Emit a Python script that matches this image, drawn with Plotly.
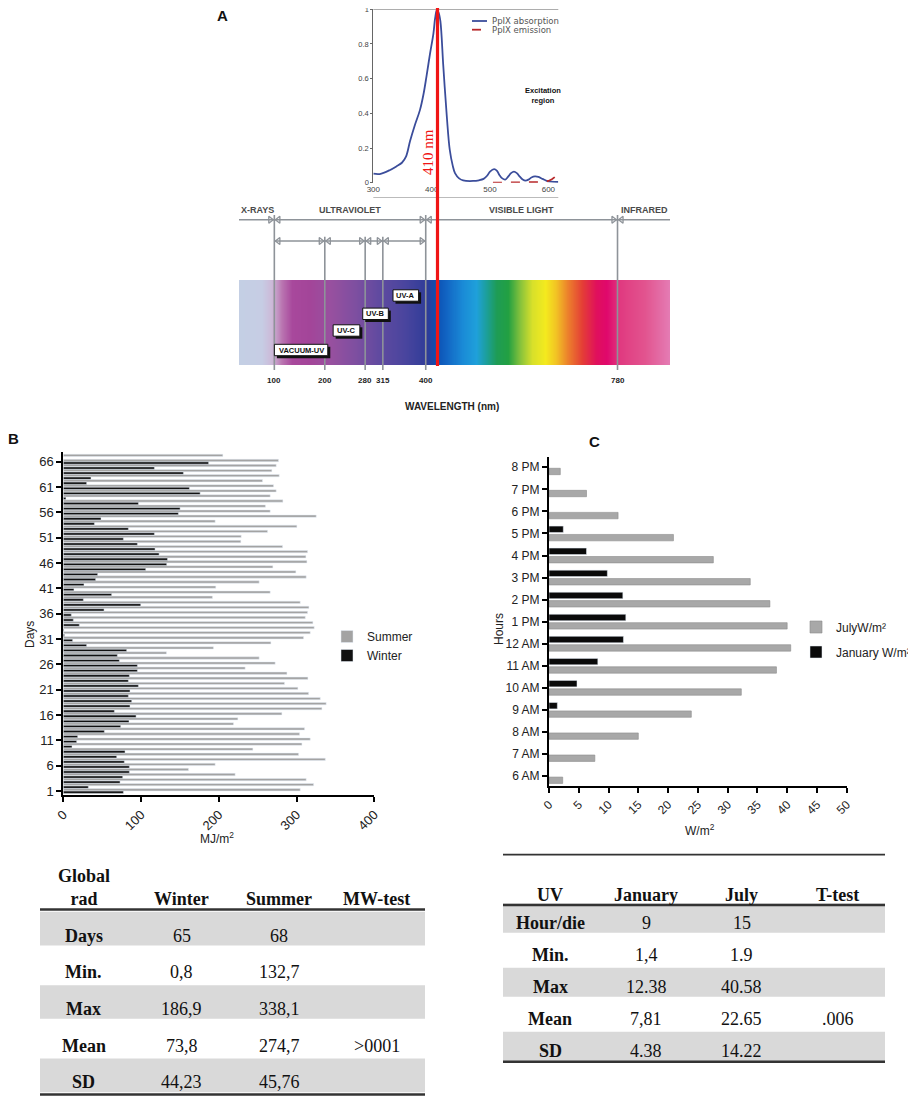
import numpy as np
import plotly.graph_objects as go

W, H = 916, 1096
PAGE_OFFSET = 8  # the page body margin shifts the figure by this much


def px(x):
    return (x - PAGE_OFFSET) / W


def py(y):
    return 1 - (y - PAGE_OFFSET) / H


# ---------------- panel A: spectrum and PpIX inset ----------------
main_edges = [100, 400, 780]
sub_edges = [100, 200, 280, 315, 400]
edge_labels = [100, 200, 280, 315, 400, 780]
regions = ["X-RAYS", "ULTRAVIOLET", "VISIBLE LIGHT", "INFRARED"]
uv_names = ["VACUUM-UV", "UV-C", "UV-B", "UV-A"]

spec_nm = [30, 76, 96, 116, 136, 171, 211, 260, 310, 359, 405, 421, 444, 472, 500, 520,
           540, 563, 587, 611, 637, 658, 682, 710, 738, 759, 785, 835, 884]
spec_col = ["#c4cfe4", "#c6cde4", "#cdb8d8", "#b974b0", "#a8489c", "#a34599", "#98509f",
            "#7f4fa0", "#5f4aa0", "#4a459e", "#2f3c98", "#0b4fb2", "#1266c4", "#1a8ad6",
            "#1fa0da", "#1c9f9a", "#1e9c55", "#22a042", "#86c23c", "#d8e02a", "#f4ea1e",
            "#f2c324", "#ec7f2c", "#e43e36", "#e0105c", "#e0086c", "#e03a80", "#e2548f",
            "#e47cb4"]

abs_nm = [300, 311, 328, 340, 349, 356, 363, 371, 380, 386, 391, 397, 403, 406, 409, 412,
          415, 420, 426, 431, 436, 440, 447, 454, 471, 481, 489, 495, 500, 507, 512, 516,
          521, 526, 531, 536, 541, 546, 551, 556, 561, 566, 571, 577, 583, 590, 597, 605, 617]
abs_val = [0.052, 0.05, 0.072, 0.095, 0.115, 0.15, 0.24, 0.33, 0.42, 0.51, 0.61, 0.74, 0.86,
           0.95, 0.997, 0.98, 0.93, 0.67, 0.38, 0.19, 0.1, 0.055, 0.025, 0.013, 0.01, 0.014,
           0.022, 0.04, 0.064, 0.078, 0.068, 0.045, 0.025, 0.018, 0.035, 0.055, 0.064, 0.055,
           0.035, 0.018, 0.012, 0.018, 0.03, 0.036, 0.033, 0.022, 0.011, 0.006, 0.004]
emi_nm = [505, 540, 570, 590, 600, 606, 612, 617]
emi_val = [0.0, 0.0, 0.0, 0.004, 0.01, 0.02, 0.035, 0.05]
peak_nm = 410
inset_names = ["PpIX absorption", "PpIX emission"]

# ---------------- panel B: daily global radiation ----------------
days = list(range(1, 68))
summer = [304.7, 321.9, 312.4, 221.0, 161.0, 195.3, 337.0, 302.6, 243.8, 306.9,
          317.6, 303.9, 310.3, 218.9, 224.5, 281.1, 332.6, 338.1, 330.5, 315.5,
          301.7, 284.5, 314.6, 287.6, 233.9, 272.5, 251.9, 132.7, 193.1, 267.0,
          309.0, 317.6, 322.7, 321.0, 311.2, 314.2, 315.9, 304.7, 191.8, 266.1,
          196.1, 251.9, 312.4, 299.1, 269.5, 313.3, 312.0, 314.2, 282.0, 228.3,
          228.8, 262.7, 300.4, 195.3, 325.3, 266.1, 260.0, 282.4, 266.1, 273.8,
          270.4, 256.2, 277.7, 268.2, 273.8, 276.8, 205.2]
winter = [77.3, 32.2, 73.0, 76.4, 85.0, 85.0, 78.5, 68.7, 79.4, 11.2,
          17.2, 18.5, 52.8, 73.8, 84.5, 93.6, 65.7, 85.8, 88.0, 83.7,
          85.8, 96.6, 83.7, 85.0, 95.3, 95.3, 72.1, 69.5, 81.5, 30.0,
          12.0, 1.5, 0.8, 20.6, 12.9, 10.3, 52.4, 99.6, 25.8, 62.2,
          13.7, 26.6, 41.6, 44.2, 106.0, 133.0, 134.0, 123.2, 118.0, 95.3,
          77.3, 117.2, 83.7, 40.0, 48.5, 148.0, 150.2, 96.6, 3.4, 176.0,
          162.2, 30.0, 35.6, 154.5, 117.2, 186.9, None]

# ---------------- panel C: hourly UV ----------------
hours = ["6 AM", "7 AM", "8 AM", "9 AM", "10 AM", "11 AM", "12 AM", "1 PM",
         "2 PM", "3 PM", "4 PM", "5 PM", "6 PM", "7 PM", "8 PM"]
july = [2.3, 7.7, 15.0, 23.9, 32.3, 38.2, 40.6, 40.0, 37.1, 33.8, 27.6, 20.9, 11.6, 6.3, 1.9]
january = [None, None, None, 1.4, 4.7, 8.2, 12.5, 12.9, 12.4, 9.8, 6.3, 2.4, None, None, None]

# ---------------- tables ----------------
tab_b_head = ["Global<br>rad", "Winter", "Summer", "MW-test"]
tab_b_rows = [["Days", "65", "68", ""],
              ["Min.", "0,8", "132,7", ""],
              ["Max", "186,9", "338,1", ""],
              ["Mean", "73,8", "274,7", ">0001"],
              ["SD", "44,23", "45,76", ""]]
tab_c_head = ["UV", "January", "July", "T-test"]
tab_c_rows = [["Hour/die", "9", "15", ""],
              ["Min.", "1,4", "1.9", ""],
              ["Max", "12.38", "40.58", ""],
              ["Mean", "7,81", "22.65", ".006"],
              ["SD", "4.38", "14.22", ""]]

SANS = "Arial, Liberation Sans, sans-serif"
SERIF = "Times New Roman, Liberation Serif, serif"
GREY_LINE = "#8e9399"

fig = go.Figure()
shapes = []
ann = []


def note(text, x, y, xref="paper", yref="paper", **kw):
    d = dict(text=text, x=x, y=y, xref=xref, yref=yref, showarrow=False,
             xanchor="center", yanchor="middle")
    d.update(kw)
    ann.append(d)


# spectrum gradient band (x4 is wavelength, y4 is a pixel row scale)
nm_lo, nm_hi = spec_nm[0], spec_nm[-1]
nm_per_px = (nm_hi - nm_lo) / (670 - 239)
cols = np.linspace(nm_lo, nm_hi, 431)
centers = (cols[:-1] + cols[1:]) / 2
cscale = [[(n - nm_lo) / (nm_hi - nm_lo), c] for n, c in zip(spec_nm, spec_col)]
fig.add_trace(go.Heatmap(x=cols, y=[280, 365], z=[centers], colorscale=cscale,
                         zmin=nm_lo, zmax=nm_hi, showscale=False, hoverinfo="skip",
                         xaxis="x4", yaxis="y4"))

# arrow lines and boundaries
shapes.append(dict(type="line", xref="x4 domain", yref="y4", x0=0, x1=1, y0=219.7, y1=219.7,
                   line=dict(color=GREY_LINE, width=1.5)))
shapes.append(dict(type="line", xref="x4", yref="y4", x0=sub_edges[0], x1=sub_edges[-1],
                   y0=241, y1=241, line=dict(color=GREY_LINE, width=1.5)))
for e in main_edges:
    shapes.append(dict(type="line", xref="x4", yref="y4", x0=e, x1=e, y0=215, y1=370,
                       line=dict(color=GREY_LINE, width=1.6)))
for e in sub_edges[1:-1]:
    shapes.append(dict(type="line", xref="x4", yref="y4", x0=e, x1=e, y0=236.7, y1=370,
                       line=dict(color=GREY_LINE, width=1.6)))

rx, ry, lx, ly = [], [], [], []
for e in main_edges:
    rx.append(e - 8); ry.append(219.7)
    lx.append(e + 8); ly.append(219.7)
for i, e in enumerate(sub_edges):
    if i > 0:
        rx.append(e - 8); ry.append(241)
    if i < len(sub_edges) - 1:
        lx.append(e + 8); ly.append(241)
for xs, ys, sym in [(rx, ry, "triangle-right-open"), (lx, ly, "triangle-left-open")]:
    fig.add_trace(go.Scatter(x=xs, y=ys, mode="markers", xaxis="x4", yaxis="y4",
                             showlegend=False, hoverinfo="skip",
                             marker=dict(symbol=sym, size=6, color=GREY_LINE,
                                         line=dict(width=1.3, color=GREY_LINE))))

reg_x = [nm_lo, (main_edges[0] + main_edges[1]) / 2, (main_edges[1] + main_edges[2]) / 2, nm_hi]
reg_anchor = ["left", "center", "center", "right"]
for name, x, a in zip(regions, reg_x, reg_anchor):
    note(name, x, 210, "x4", "y4", xanchor=a,
         font=dict(family=SANS, size=9, color="#4a4a4a", weight="bold"))
for e in edge_labels:
    note(str(e), e, 380, "x4", "y4", font=dict(family=SANS, size=8, color="#222", weight="bold"))
note("WAVELENGTH (nm)", px(452), py(407),
     font=dict(family=SANS, size=10, color="#222", weight="bold"))

# UV sub-band tags: shadow, white box, label
tag_y = [350, 330.5, 313.8, 295.5]
tag_w = [53.4, 26.7, 25.6, 25.6]
for i, name in enumerate(uv_names):
    cx = (sub_edges[i] + sub_edges[i + 1]) / 2 + 3
    half = tag_w[i] / 2 * nm_per_px
    sh = 2.5 * nm_per_px
    shapes.append(dict(type="rect", xref="x4", yref="y4", x0=cx - half + sh, x1=cx + half + sh,
                       y0=tag_y[i] - 5.7 + 2.5, y1=tag_y[i] + 5.7 + 2.5,
                       fillcolor="#111", line=dict(width=0)))
    shapes.append(dict(type="rect", xref="x4", yref="y4", x0=cx - half, x1=cx + half,
                       y0=tag_y[i] - 5.7, y1=tag_y[i] + 5.7,
                       fillcolor="white", line=dict(color="#111", width=1)))
    note(name, cx, tag_y[i], "x4", "y4", font=dict(family=SANS, size=7.5, color="#111", weight="bold"))

# inset absorption / emission
fig.add_trace(go.Scatter(x=abs_nm, y=abs_val, mode="lines",
                         line=dict(color="#3b4d9b", width=1.8, shape="spline"),
                         xaxis="x3", yaxis="y3", showlegend=False, name=inset_names[0]))
fig.add_trace(go.Scatter(x=emi_nm, y=emi_val, mode="lines",
                         line=dict(color="#b8282a", width=1.8, dash="dash"),
                         xaxis="x3", yaxis="y3", showlegend=False, name=inset_names[1]))
shapes.append(dict(type="line", xref="x3 domain", yref="y3", x0=0, x1=1, y0=1, y1=1,
                   line=dict(color="#777", width=1)))
shapes.append(dict(type="line", xref="x3 domain", yref="paper", x0=0, x1=1,
                   y0=py(197.5), y1=py(197.5), line=dict(color="#bbb", width=1)))
for name, yy, col, dash in zip(inset_names, [21, 29.7], ["#3b4d9b", "#b8282a"], ["solid", "dash"]):
    shapes.append(dict(type="line", xref="paper", yref="paper", x0=px(472), x1=px(487),
                       y0=py(yy), y1=py(yy), line=dict(color=col, width=1.8, dash=dash)))
    note(name, px(490), py(yy), xanchor="left",
         font=dict(family="DejaVu Sans", size=8.5, color="#555"))
note("Excitation<br>region", px(543), py(95.5),
     font=dict(family=SANS, size=7.5, color="#111", weight="bold"))

# 410 nm marker
shapes.append(dict(type="line", xref="x3", yref="paper", x0=peak_nm, x1=peak_nm,
                   y0=py(366), y1=py(8), line=dict(color="#f01515", width=3.2)))
note(f"{peak_nm} nm", peak_nm, py(152), "x3", "paper", xshift=-9.5, textangle=-90,
     font=dict(family=SERIF, size=15, color="#f01515"))

# ---------------- panel B bars ----------------
fig.add_trace(go.Bar(y=days, x=summer, orientation="h", name="Summer",
                     marker=dict(color="#a3a3a3"), offset=0.02, width=0.46,
                     xaxis="x", yaxis="y", legend="legend"))
fig.add_trace(go.Bar(y=days, x=winter, orientation="h", name="Winter",
                     marker=dict(color="#111"), offset=-0.48, width=0.46,
                     xaxis="x", yaxis="y", legend="legend"))

# ---------------- panel C bars ----------------
fig.add_trace(go.Bar(y=hours, x=july, orientation="h", name="JulyW/m²",
                     marker=dict(color="#a8a8a8", line=dict(color="#8c8c8c", width=0.6)),
                     offset=-0.335, width=0.29, xaxis="x2", yaxis="y2", legend="legend2",
                     legendgroup="jul"))
fig.add_trace(go.Bar(y=hours, x=january, orientation="h", name="January W/m²",
                     marker=dict(color="#0a0a0a"), offset=0.045, width=0.29,
                     xaxis="x2", yaxis="y2", legend="legend2", legendgroup="jan"))

title_font = dict(family=SANS, size=12, color="#222")
note("Days", px(30), py(635), textangle=-90, font=title_font)
note("MJ/m<sup>2</sup>", px(217), py(838), font=title_font)
note("Hours", px(499), py(629), textangle=-90, font=title_font)
note("W/m<sup>2</sup>", px(700), py(830), font=title_font)
for letter, x, y in [("A", 222, 16), ("B", 13, 438), ("C", 594, 441)]:
    note(letter, px(x), py(y), font=dict(family=SANS, size=15, color="#111", weight="bold"))


# ---------------- tables ----------------
def add_table(xa, ya, head, rows, head_y, band, lines):
    for c, h in enumerate(head):
        nl = h.count("<br>")
        note(h, c, head_y - 0.31 * nl, xa, ya,
             font=dict(family=SERIF, size=18, color="#111", weight="bold"))
    for r, row in enumerate(rows, start=1):
        if r % 2 == 1:
            shapes.append(dict(type="rect", xref=xa + " domain", yref=ya, x0=0, x1=1,
                               y0=r + band[0], y1=r + band[1], fillcolor="#d9d9d9",
                               line=dict(width=0), layer="below"))
        for c, v in enumerate(row):
            if v:
                note(v, c, r, xa, ya, font=dict(family=SERIF, size=18, color="#111",
                                                weight="bold" if c == 0 else "normal"))
    for yv, wd in lines:
        shapes.append(dict(type="line", xref=xa + " domain", yref=ya, x0=0, x1=1, y0=yv, y1=yv,
                           line=dict(color="#333", width=wd)))


add_table("x5", "y5", tab_b_head, tab_b_rows, 0, (-0.65, 0.27), [(0.284, 2.5), (5.33, 2.5)])
add_table("x6", "y6", tab_c_head, tab_c_rows, 0.14, (-0.6, 0.31),
          [(-1.12, 1.8), (0.449, 2.5), (5.33, 2.5)])

hidden = dict(visible=False, showgrid=False, zeroline=False, fixedrange=True, automargin=False)
axis_common = dict(showline=True, linecolor="black", linewidth=2, ticks="outside", ticklen=5,
                   tickwidth=2, tickcolor="black", showgrid=False, zeroline=False,
                   automargin=False, tickfont=dict(family=SANS, color="#222"))

fig.update_layout(
    width=W, height=H,
    margin=dict(l=0, r=0, t=0, b=0, pad=0, autoexpand=False),
    paper_bgcolor="white", plot_bgcolor="rgba(0,0,0,0)",
    barmode="overlay", font=dict(family=SANS, color="#222"),
    xaxis=dict(axis_common, domain=[px(63.3), px(374.3)], range=[0, 400], anchor="y",
               tickvals=[0, 100, 200, 300, 400], tickangle=-45, tickfont=dict(size=13)),
    yaxis=dict(axis_common, domain=[py(795), py(451.7)], range=[0.21, 67.98], anchor="x",
               tickvals=days[::5], tickfont=dict(size=13)),
    xaxis2=dict(axis_common, domain=[px(549), px(846.7)], range=[0, 50], anchor="y2",
                dtick=5, tickangle=-45, tickfont=dict(size=12)),
    yaxis2=dict(axis_common, domain=[py(786), py(456.7)], range=[-0.45, 14.48], anchor="x2",
                type="category", categoryorder="array", categoryarray=hours,
                tickfont=dict(size=12)),
    xaxis3=dict(domain=[px(373.3), px(558.3)], range=[300, 617], anchor="y3",
                tickvals=[300, 400, 500, 600], showgrid=False, zeroline=False, showline=False,
                ticks="", automargin=False, tickfont=dict(family=SANS, size=8, color="#444")),
    yaxis3=dict(domain=[py(182.7), py(9.3)], range=[0, 1], anchor="x3", dtick=0.2,
                showgrid=False, zeroline=False, showline=True, linecolor="#666", linewidth=1,
                ticks="outside", ticklen=2, tickcolor="#666", automargin=False,
                ticklabeloverflow="allow",
                tickfont=dict(family=SANS, size=7.5, color="#444")),
    xaxis4=dict(hidden, domain=[px(239), px(670)], range=[nm_lo, nm_hi], anchor="y4"),
    yaxis4=dict(hidden, domain=[py(415), py(200)], range=[415, 200], anchor="x4"),
    xaxis5=dict(hidden, domain=[px(40), px(425)], range=[-0.451, 3.497], anchor="y5"),
    yaxis5=dict(hidden, domain=[py(1096), py(855)], range=[5.374, -1.2], anchor="x5"),
    xaxis6=dict(hidden, domain=[px(503), px(885)], range=[-0.49, 3.49], anchor="y6"),
    yaxis6=dict(hidden, domain=[py(1070), py(850)], range=[5.589, -1.265], anchor="x6"),
    legend=dict(x=px(327), y=py(622), xanchor="left", yanchor="top", bgcolor="rgba(0,0,0,0)",
                font=dict(family=SANS, size=12, color="#222")),
    legend2=dict(x=px(796), y=py(612.5), xanchor="left", yanchor="top", bgcolor="rgba(0,0,0,0)",
                 tracegroupgap=6, font=dict(family=SANS, size=12, color="#222")),
    shapes=shapes, annotations=ann,
)

fig.write_html("out.html")
